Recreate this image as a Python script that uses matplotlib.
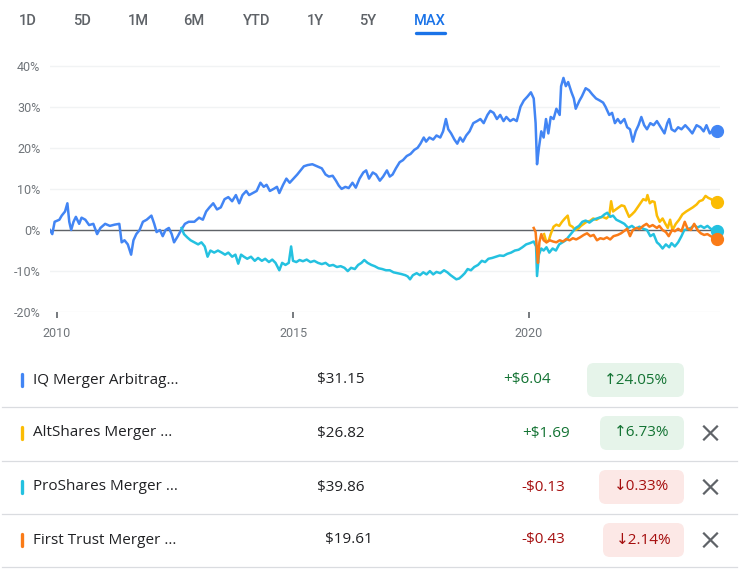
import numpy as np
import matplotlib.pyplot as plt
from matplotlib.patches import FancyBboxPatch

# ---- data (percent change since start, x in decimal years) ----
iq_years = [2009.85, 2009.90, 2009.95, 2010.05, 2010.10, 2010.17, 2010.22, 2010.26, 2010.30, 2010.35,
            2010.40, 2010.47, 2010.52, 2010.60, 2010.68, 2010.77, 2010.85, 2010.92, 2011.02, 2011.12,
            2011.22, 2011.32, 2011.37, 2011.43, 2011.50, 2011.57, 2011.62, 2011.68, 2011.75, 2011.82,
            2011.90, 2012.00, 2012.06, 2012.11, 2012.18, 2012.24, 2012.30, 2012.37, 2012.43, 2012.48,
            2012.56, 2012.63, 2012.71, 2012.79, 2012.91, 2013.01, 2013.09, 2013.16, 2013.23, 2013.31,
            2013.39, 2013.47, 2013.55, 2013.63, 2013.71, 2013.79, 2013.86, 2013.93, 2014.01, 2014.07,
            2014.15, 2014.23, 2014.31, 2014.38, 2014.44, 2014.51, 2014.59, 2014.66, 2014.71, 2014.79,
            2014.86, 2014.93, 2015.01, 2015.09, 2015.16, 2015.23, 2015.31, 2015.41, 2015.51, 2015.61,
            2015.69, 2015.76, 2015.84, 2015.91, 2015.97, 2016.03, 2016.11, 2016.18, 2016.26, 2016.33,
            2016.41, 2016.49, 2016.55, 2016.61, 2016.69, 2016.76, 2016.84, 2016.91, 2016.99, 2017.05,
            2017.11, 2017.18, 2017.26, 2017.33, 2017.41, 2017.49, 2017.57, 2017.64, 2017.70, 2017.77,
            2017.82, 2017.89, 2017.97, 2018.04, 2018.12, 2018.18, 2018.24, 2018.29, 2018.35, 2018.42,
            2018.48, 2018.54, 2018.60, 2018.67, 2018.74, 2018.82, 2018.90, 2018.97, 2019.04, 2019.12,
            2019.18, 2019.25, 2019.32, 2019.39, 2019.46, 2019.52, 2019.60, 2019.67, 2019.74, 2019.82,
            2019.89, 2019.97, 2020.04, 2020.10, 2020.14, 2020.17, 2020.21, 2020.26, 2020.31, 2020.36,
            2020.41, 2020.46, 2020.52, 2020.58, 2020.65, 2020.68, 2020.73, 2020.78, 2020.83, 2020.90,
            2020.95, 2020.99, 2021.07, 2021.12, 2021.20, 2021.27, 2021.34, 2021.42, 2021.50, 2021.57,
            2021.62, 2021.70, 2021.76, 2021.82, 2021.88, 2021.94, 2022.02, 2022.08, 2022.14, 2022.20,
            2022.26, 2022.32, 2022.38, 2022.44, 2022.50, 2022.57, 2022.64, 2022.71, 2022.79, 2022.87,
            2022.93, 2022.97, 2023.02, 2023.09, 2023.16, 2023.23, 2023.31, 2023.39, 2023.46, 2023.55,
            2023.63, 2023.70, 2023.76, 2023.83, 2023.91, 2023.99]
iq_pct = [0, -1, 2, 2.5, 3.5, 4.5, 6.5, 2, 0, 2,
          3.2, 1.5, 3, 2.5, 1.2, 1.5, -1, 0.5, 1.5, 1,
          1.3, 1.5, -3, -2.5, -3.5, -6, -2.5, -1, 0, 2,
          2.5, 3.5, 1.5, -0.5, 0, -1.5, 0, 0.5, -1, -3,
          -1.5, 0, 1.5, 2, 2, 3, 2.5, 4.5, 5.5, 6.5,
          5, 5.5, 7.5, 8, 7, 8.5, 6.5, 8.5, 9.5, 8.5,
          9, 9.5, 11.5, 10.5, 11, 9.5, 10, 10.5, 9, 11,
          12.5, 11.5, 12.5, 13.5, 14.5, 15.5, 15.8, 16, 15.5, 15,
          13.5, 13, 13.2, 12, 10.8, 10, 10.5, 10.2, 11.5, 10.3,
          12.5, 14, 14.5, 12.5, 14, 13.5, 12, 13, 14.5, 13,
          13.5, 15, 16.5, 17, 18, 18.5, 19.5, 20, 21, 22.5,
          21.5, 22.5, 22, 23, 22.5, 24, 27, 24.5, 23.5, 22,
          21, 22.5, 21.5, 23, 24, 26, 26.5, 27, 26, 28,
          29, 28.5, 27, 28, 26.5, 27.5, 26.5, 27, 26.5, 30,
          31.5, 32.5, 33.5, 32, 26, 16, 20, 24, 22.5, 27,
          23.5, 27.5, 27, 29.5, 28, 35, 37, 35, 36, 33.5,
          32, 29.5, 31.5, 32.5, 34.5, 34, 33, 32, 31.5, 31,
          30, 28, 28.5, 26, 27, 26, 27, 25, 24.5, 21.5,
          24, 25.5, 27.5, 25.5, 24.5, 26, 25.5, 26.5, 25, 23.5,
          26, 27, 24.5, 24, 25, 24.5, 25.5, 24.5, 23.5, 25.5,
          25, 24, 25.5, 23.5, 24.5, 24.05]

pro_years = [2012.64, 2012.69, 2012.76, 2012.83, 2012.91, 2012.99, 2013.06, 2013.13, 2013.19, 2013.25,
             2013.33, 2013.41, 2013.49, 2013.56, 2013.63, 2013.71, 2013.78, 2013.84, 2013.90, 2013.96,
             2014.03, 2014.11, 2014.19, 2014.26, 2014.34, 2014.41, 2014.49, 2014.56, 2014.63, 2014.71,
             2014.77, 2014.84, 2014.91, 2014.96, 2015.00, 2015.07, 2015.14, 2015.21, 2015.29, 2015.37,
             2015.45, 2015.53, 2015.61, 2015.69, 2015.77, 2015.85, 2015.93, 2016.01, 2016.09, 2016.16,
             2016.23, 2016.31, 2016.38, 2016.45, 2016.51, 2016.58, 2016.66, 2016.73, 2016.81, 2016.89,
             2016.97, 2017.05, 2017.13, 2017.21, 2017.29, 2017.38, 2017.43, 2017.48, 2017.54, 2017.62,
             2017.69, 2017.76, 2017.83, 2017.90, 2017.97, 2018.04, 2018.12, 2018.20, 2018.27, 2018.34,
             2018.40, 2018.46, 2018.52, 2018.58, 2018.64, 2018.70, 2018.77, 2018.84, 2018.92, 2019.00,
             2019.07, 2019.14, 2019.22, 2019.30, 2019.38, 2019.46, 2019.54, 2019.62, 2019.70, 2019.78,
             2019.86, 2019.94, 2020.02, 2020.10, 2020.15, 2020.17, 2020.21, 2020.26, 2020.31, 2020.37,
             2020.43, 2020.50, 2020.57, 2020.64, 2020.71, 2020.78, 2020.85, 2020.92, 2020.99, 2021.06,
             2021.13, 2021.20, 2021.28, 2021.36, 2021.44, 2021.54, 2021.60, 2021.66, 2021.72, 2021.78,
             2021.85, 2021.94, 2022.02, 2022.10, 2022.18, 2022.26, 2022.34, 2022.42, 2022.50, 2022.57,
             2022.64, 2022.71, 2022.76, 2022.83, 2022.90, 2022.97, 2023.02, 2023.09, 2023.16, 2023.23,
             2023.29, 2023.36, 2023.43, 2023.50, 2023.57, 2023.64, 2023.71, 2023.78, 2023.85, 2023.91,
             2023.99]
pro_pct = [0.5, -1, -1.8, -2.5, -3, -3.5, -3, -4, -6.5, -5,
           -5.5, -5, -5.5, -6, -5.5, -6.5, -6, -8.2, -6, -6.5,
           -7, -6.5, -7.5, -6.8, -7.5, -7, -7.8, -7.2, -8, -9.8,
           -8, -8.5, -8, -4, -7.5, -7.8, -7.3, -7.6, -7.2, -7.8,
           -7.5, -8, -8.3, -8, -8.7, -8.5, -9, -8.8, -9.2, -10,
           -9.2, -9.5, -8.5, -8, -7.3, -8, -8.5, -8.8, -9.3, -9.5,
           -9.8, -9.8, -10.3, -10.5, -10.7, -11, -11.3, -12, -11, -10.5,
           -11, -10.3, -10.8, -10, -10.8, -10.2, -10.5, -9.8, -10.3, -11,
           -11.5, -12, -11.8, -11.2, -10.5, -9.5, -9.8, -9, -8.5, -7.5,
           -7.8, -7, -6.8, -6.5, -6.2, -6.3, -5.8, -5.5, -5, -4.8,
           -4.2, -3.5, -3.2, -2.8, -4, -11.2, -6, -4.5, -5, -4.2,
           -5.5, -4.5, -5, -3.5, -3, -2.5, -1.5, -0.5, 0.5, 1,
           2, 2.3, 1.8, 2.5, 2.8, 3.2, 3.8, 4.2, 3.2, 3.5,
           2.5, 2, 1.5, 0.5, 1, 0.3, 0.8, 0.3, 0, -1.5,
           -1, -3, -3.5, -4.5, -3.5, -4.2, -3.2, -4, -3, -1.5,
           0, 0.2, 0.5, 1.2, 0.6, 1, 0.5, 1, 0.3, 0,
           -0.33]

ft_years = [2020.10, 2020.14, 2020.17, 2020.19, 2020.22, 2020.26, 2020.31, 2020.37, 2020.44, 2020.51,
            2020.58, 2020.65, 2020.72, 2020.79, 2020.86, 2020.93, 2021.00, 2021.08, 2021.16, 2021.23,
            2021.30, 2021.37, 2021.44, 2021.51, 2021.58, 2021.65, 2021.72, 2021.79, 2021.88, 2021.95,
            2022.02, 2022.08, 2022.14, 2022.20, 2022.28, 2022.34, 2022.42, 2022.49, 2022.55, 2022.62,
            2022.71, 2022.76, 2022.83, 2022.90, 2022.96, 2023.03, 2023.09, 2023.16, 2023.23, 2023.30,
            2023.36, 2023.43, 2023.50, 2023.57, 2023.64, 2023.71, 2023.78, 2023.85, 2023.91, 2023.99]
ft_pct = [0.5, -0.5, -5, -8, -3, -1, -2.5, -3, -2.5, -2.8,
          -3, -2.5, -2.8, -2.2, -2.5, -2, -2.3, -1.8, -1.2, -0.8,
          -1.5, -1.2, -2.5, -2, -2.2, -1.8, -2.3, -1.5, -1.2, -0.8,
          -0.2, 0.3, -1.5, 0, 0.5, 0.2, 1, 1.5, 0.8, 1.2,
          0.5, 1, 0, -0.5, -1.5, 0, -0.3, 0.3, -0.3, 2,
          0.3, 0, 1.5, 0, -0.8, -1.2, -1, -1.5, -1.8, -2.14]

alt_years = [2020.32, 2020.37, 2020.42, 2020.46, 2020.52, 2020.58, 2020.64, 2020.70, 2020.76, 2020.82,
             2020.86, 2020.92, 2020.98, 2021.04, 2021.10, 2021.16, 2021.22, 2021.29, 2021.36, 2021.43,
             2021.50, 2021.56, 2021.64, 2021.70, 2021.74, 2021.78, 2021.84, 2021.90, 2021.96, 2022.02,
             2022.07, 2022.12, 2022.18, 2022.24, 2022.30, 2022.36, 2022.42, 2022.48, 2022.51, 2022.56,
             2022.61, 2022.66, 2022.71, 2022.77, 2022.83, 2022.89, 2022.94, 2022.99, 2023.04, 2023.11,
             2023.18, 2023.25, 2023.33, 2023.40, 2023.47, 2023.55, 2023.61, 2023.68, 2023.74, 2023.80,
             2023.86, 2023.91, 2023.99]
alt_pct = [-1, -3, -2.5, -1, 0.8, 1.3, 1, 2, 2.8, 3.5,
           1.2, 0.8, 0, 0.3, 1, 1.5, 2, 2.2, 2.8, 2.5,
           3, 3.2, 2.8, 3.5, 7, 4.5, 5, 5.5, 6, 5.8,
           4.5, 3.2, 3.8, 4.5, 5.5, 6.5, 7.5, 7.2, 8.5, 6.5,
           7, 6.8, 3.5, 2, 2.8, 1.5, 0.5, 2.5, 0, 1.5,
           2.5, 3.8, 4.5, 5, 5.5, 6.2, 7, 7.3, 8.3, 7.8,
           7.5, 6.8, 6.73]

tabs = ['1D', '5D', '1M', '6M', 'YTD', '1Y', '5Y', 'MAX']
y_ticks = [-20, -10, 0, 10, 20, 30, 40]
x_ticks = [2010, 2015, 2020]

names = ['IQ Merger Arbitrag...', 'AltShares Merger ...', 'ProShares Merger ...', 'First Trust Merger ...']
prices = ['$31.15', '$26.82', '$39.86', '$19.61']
changes = ['+$6.04', '+$1.69', '-$0.13', '-$0.43']
pcts = ['24.05%', '6.73%', '0.33%', '2.14%']
colors = ['#4285f4', '#fbbc04', '#24c1e0', '#fa7b17']

GREEN, GREEN_BG = '#137333', '#e6f4ea'
RED, RED_BG = '#a50e0e', '#fce8e6'
GRAY = '#5f6368'

plt.rcParams['font.family'] = ['Roboto', 'DejaVu Sans']
TABLE_FONT = ['Open Sans', 'DejaVu Sans']

W, H = 739, 571
fig = plt.figure(figsize=(W / 100, H / 100), dpi=100)

# overlay axes in pixel units (y down)
ov = fig.add_axes([0, 0, 1, 1])
ov.set_xlim(0, W)
ov.set_ylim(H, 0)
ov.axis('off')

# ---- range tabs ----
tab_x = [28, 82, 138, 194, 257, 315, 368, 430]
for t, x in zip(tabs, tab_x):
    c = '#1a73e8' if t == 'MAX' else GRAY
    ov.text(x, 21, t, ha='center', va='center', fontsize=10.5, color=c, fontweight='medium')
ov.plot([416, 445], [32.5, 32.5], color='#1a73e8', lw=2.4, solid_capstyle='round')

# ---- chart ----
px_per_pct = 4.11
y0 = 230
ytop, ybot = 41.5, -20
left_px, right_px = 50, 720
yr_px = 47.2
x0_px = 57
ax = fig.add_axes([left_px / W, 1 - (y0 - ybot * px_per_pct) / H,
                   (right_px - left_px) / W, (ytop - ybot) * px_per_pct / H])
ax.set_xlim(2010 + (left_px - x0_px) / yr_px, 2010 + (right_px - x0_px) / yr_px)
ax.set_ylim(ybot, ytop)
ax.patch.set_alpha(0)
for s in ax.spines.values():
    s.set_visible(False)

for v in y_ticks:
    ax.axhline(v, color='#f1f3f4', lw=1.0, zorder=0)
ax.axhline(0, color=GRAY, lw=1.0, zorder=1)

series = [(iq_years, iq_pct), (alt_years, alt_pct), (pro_years, pro_pct), (ft_years, ft_pct)]
for (xs, ys), c in zip(series, colors):
    ax.plot(xs, ys, color=c, lw=1.8, zorder=2, solid_joinstyle='round')
for (xs, ys), c in zip(series, colors):
    ax.plot(xs[-1], ys[-1], 'o', color=c, ms=8.5, zorder=3, clip_on=False)

ax.set_yticks(y_ticks)
ax.set_yticklabels(['{}%'.format(v) for v in y_ticks])
ax.set_xticks(x_ticks)
ax.set_xticklabels([str(v) for v in x_ticks])
ax.tick_params(axis='y', length=0, pad=7, labelsize=9, labelcolor='#70757a')
ax.tick_params(axis='x', length=4.5, width=1.2, color=GRAY, pad=6, labelsize=9, labelcolor='#70757a')

# ---- comparison table ----
row_y = [380, 433, 487, 540]
sep_y = [407, 461, 514, 567]
price_x = [317, 317, 317, 325]
change_x = [503, 522, 521, 521]
pill_left = [587, 600, 599, 603]
pill_right = 684

for i in range(4):
    y = row_y[i]
    ov.plot([21.5, 21.5], [y - 6, y + 6], color=colors[i], lw=2.4, solid_capstyle='round')
    ov.text(33, y, names[i], ha='left', va='center', fontsize=11, color='#202124',
            family=TABLE_FONT)
    ov.text(price_x[i], y, prices[i], ha='left', va='center', fontsize=11, color='#202124',
            family=TABLE_FONT)
    up = changes[i].startswith('+')
    fg = GREEN if up else RED
    bg = GREEN_BG if up else RED_BG
    ov.text(change_x[i], y, changes[i], ha='left', va='center', fontsize=11, color=fg,
            family=TABLE_FONT)
    pill = FancyBboxPatch((pill_left[i], y - 17), pill_right - pill_left[i], 34,
                          boxstyle='round,pad=0,rounding_size=7', fc=bg, ec='none')
    ov.add_patch(pill)
    arrow = '\u2191' if up else '\u2193'
    ov.text((pill_left[i] + pill_right) / 2, y, arrow + pcts[i], ha='center', va='center',
            fontsize=11, color=fg, family=TABLE_FONT)
    if i > 0:
        ov.plot([704, 717], [y - 6.5, y + 6.5], color=GRAY, lw=1.6)
        ov.plot([704, 717], [y + 6.5, y - 6.5], color=GRAY, lw=1.6)
    ov.plot([2, 737], [sep_y[i], sep_y[i]], color='#dadce0', lw=0.9)

fig.savefig('out.png', dpi=100)
